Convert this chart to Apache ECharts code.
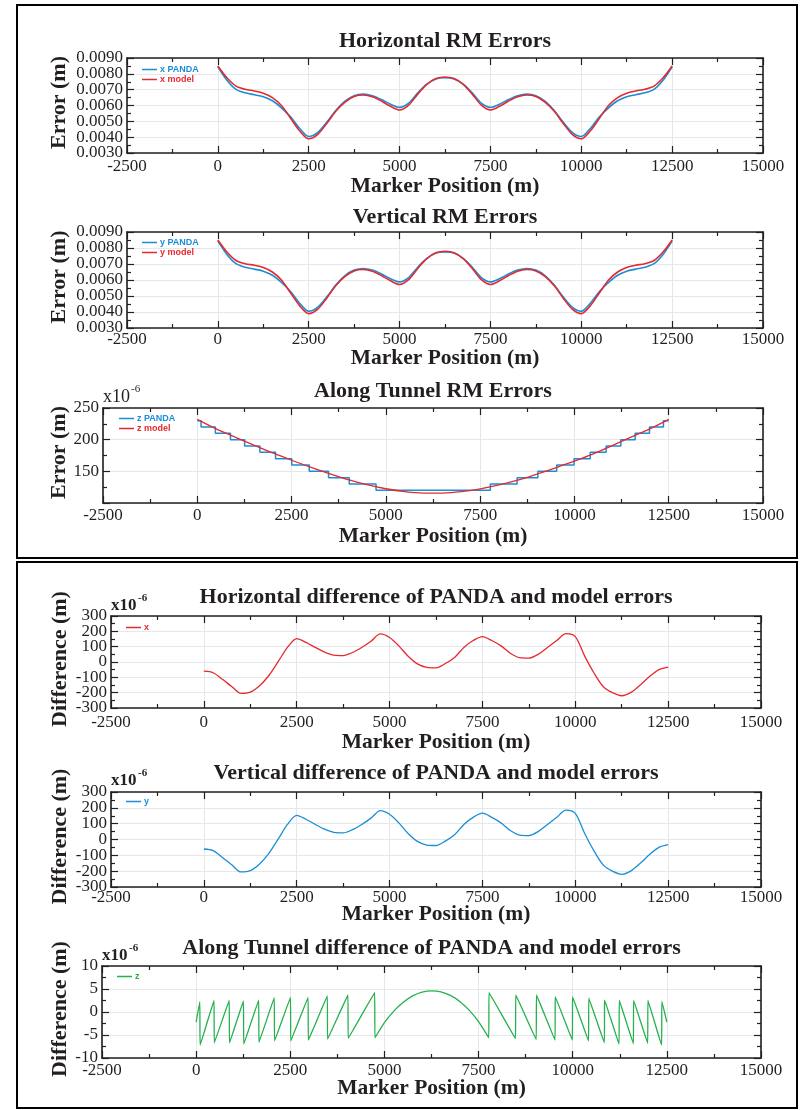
<!DOCTYPE html>
<html>
<head>
<meta charset="utf-8">
<script src="https://cdn.jsdelivr.net/npm/echarts@6/dist/echarts.min.js"></script>
<style>
  html, body { margin: 0; padding: 0; background: #fff; }
  #chart { width: 801px; height: 1110px; }
</style>
</head>
<body>
<div id="chart"></div>
<script>
// marker positions (m)
const positions = [0,250,500,750,1000,1250,1500,1750,2000,2250,2500,2750,3000,3250,3500,3750,4000,4250,4500,4750,5000,5250,5500,5750,6000,6250,
  6500,6750,7000,7250,7500,7750,8000,8250,8500,8750,9000,9250,9500,9750,10000,10250,10500,10750,11000,11250,11500,11750,12000,12250,12500];

// horizontal RM errors (m)
const xPanda = [0.00845,0.00760,0.00702,0.00680,0.00668,0.00655,0.00630,0.00585,0.00528,0.00455,0.00404,0.00430,0.00495,0.00570,0.00628,0.00662,0.00672,0.00662,0.00638,0.00608,0.00588,0.00615,0.00680,0.00735,0.00768,0.00775,
  0.00768,0.00735,0.00680,0.00615,0.00588,0.00608,0.00638,0.00662,0.00672,0.00662,0.00628,0.00570,0.00495,0.00430,0.00404,0.00455,0.00528,0.00585,0.00630,0.00655,0.00668,0.00680,0.00702,0.00760,0.00845];
const xModel = [0.00850,0.00775,0.00722,0.00702,0.00692,0.00678,0.00650,0.00600,0.00520,0.00440,0.00390,0.00418,0.00488,0.00565,0.00622,0.00657,0.00666,0.00655,0.00628,0.00595,0.00572,0.00602,0.00672,0.00733,0.00770,0.00780,
  0.00770,0.00733,0.00672,0.00602,0.00572,0.00595,0.00628,0.00655,0.00666,0.00657,0.00622,0.00565,0.00488,0.00418,0.00390,0.00440,0.00520,0.00600,0.00650,0.00678,0.00692,0.00702,0.00722,0.00775,0.00850];

// vertical RM errors (m)
const yPanda = [0.00845,0.00760,0.00702,0.00680,0.00668,0.00655,0.00630,0.00585,0.00528,0.00455,0.00404,0.00430,0.00495,0.00570,0.00628,0.00662,0.00672,0.00662,0.00638,0.00608,0.00588,0.00615,0.00680,0.00735,0.00768,0.00775,
  0.00768,0.00735,0.00680,0.00615,0.00588,0.00608,0.00638,0.00662,0.00672,0.00662,0.00628,0.00570,0.00495,0.00430,0.00404,0.00455,0.00528,0.00585,0.00630,0.00655,0.00668,0.00680,0.00702,0.00760,0.00845];
const yModel = [0.00850,0.00775,0.00722,0.00702,0.00692,0.00678,0.00650,0.00600,0.00520,0.00440,0.00390,0.00418,0.00488,0.00565,0.00622,0.00657,0.00666,0.00655,0.00628,0.00595,0.00572,0.00602,0.00672,0.00733,0.00770,0.00780,
  0.00770,0.00733,0.00672,0.00602,0.00572,0.00595,0.00628,0.00655,0.00666,0.00657,0.00622,0.00565,0.00488,0.00418,0.00390,0.00440,0.00520,0.00600,0.00650,0.00678,0.00692,0.00702,0.00722,0.00775,0.00850];

// along tunnel RM errors (x10^-6 m)
const zStepPos = [0,100,480,880,1255,1660,2075,2505,2970,3480,4030,4740,7770,8480,9030,9530,9990,10420,10840,11230,11610,11990,12360,12500];
const zStepVal = [230,220,210,200,190,180,170,160,150,140,130,120,130,140,150,160,170,180,190,200,210,220,230,230];
const zModelPos = [0,500,1000,1500,2000,2500,3000,3500,4000,4500,5000,5500,6000,6500,7000,7500,8000,8500,9000,9500,10000,10500,11000,11500,12000,12500];
const zModelVal = [232,217,204,191.5,179,167.5,156.5,146.5,137,129,122.5,118,115.7,115.7,117.8,122.3,128.5,136,145.5,155.5,166,177.5,190.5,204,217,232];

// differences (x10^-6 m)
const xDiff = [-60,-70,-113,-160,-205,-197,-155,-88,2,95,153,128,95,65,45,42,62,95,135,183,160,105,38,-12,-35,-38,
  -10,30,95,140,166,140,105,57,28,25,50,95,140,185,165,40,-70,-160,-200,-220,-198,-150,-95,-50,-33];
const yDiff = [-60,-70,-113,-160,-205,-197,-155,-88,2,95,153,128,95,65,45,42,62,95,135,183,160,105,38,-12,-35,-38,
  -10,30,95,140,166,140,105,57,28,25,50,95,140,185,165,40,-70,-160,-200,-220,-198,-150,-95,-50,-33];
const zDiffPos = [0,97,105,474,482,878,886,1256,1264,1660,1668,2074,2082,2505,2513,2972,2980,3483,3491,4030,4038,4740,4748,
  5000,5250,5500,5750,6000,6250,6500,6750,7000,7250,7500,7770,7778,8480,8488,9030,9038,9530,9538,9990,9998,10420,10428,
  10840,10848,11230,11238,11610,11618,11990,11998,12360,12368,12500];
const zDiffVal = [-2.2,2.2,-7.2,2.5,-6.7,2.5,-6.7,2.4,-7.0,2.6,-6.6,3.1,-6.3,3.2,-6.3,3.2,-6.1,3.5,-5.9,3.7,-5.7,4.2,-5.6,
  -2.3,0.2,2.1,3.5,4.3,4.6,4.4,3.6,2.3,0.4,-2.1,-5.6,4.2,-5.8,3.7,-6.0,3.7,-6.1,3.3,-6.1,3.3,-6.3,3.0,
  -6.7,2.6,-7.0,2.5,-6.9,2.5,-6.8,2.5,-7.2,2.3,-2.2];

// y tick labels, split in two alternating sets so they can sit close together
const rmLabelsA = [0.003, 0.005, 0.007, 0.009];
const rmLabelsB = [0.004, 0.006, 0.008];
const zLabels = [150, 200, 250];
const diffLabelsA = [-300, -100, 100, 300];
const diffLabelsB = [-200, 0, 200];
const zDiffLabels = [-10, -5, 0, 5, 10];

const BLUE = '#1b8ed6', RED = '#e52a2e', GREEN = '#23b24b';
const tc = '#231f20';
const serif = '"Liberation Serif", "DejaVu Serif", serif';
const sans = '"Liberation Sans", Arial, sans-serif';

const pairs = (xs, ys) => xs.map((x, k) => [x, ys[k]]);
const fmt4 = v => Number(v).toFixed(4);
const fmt0 = v => String(Math.round(v));

const panels = [
  { left: 127, top: 58, width: 636, height: 95, title: 'Horizontal RM Errors', titleY: 41, xNameY: 186, labelMargin: 5,
    yName: 'Error (m)', yNameX: 59, yMin: 0.003, yMax: 0.009, yStep: 0.001, fmt: fmt4, labA: rmLabelsA, labB: rmLabelsB,
    legend: { left: 142, top: 65 },
    lines: [{ name: 'x PANDA', data: pairs(positions, xPanda), color: BLUE, w: 1.6 },
            { name: 'x model', data: pairs(positions, xModel), color: RED, w: 1.6 }] },
  { left: 127, top: 232, width: 636, height: 96, title: 'Vertical RM Errors', titleY: 217, xNameY: 358, labelMargin: 3,
    yName: 'Error (m)', yNameX: 59, yMin: 0.003, yMax: 0.009, yStep: 0.001, fmt: fmt4, labA: rmLabelsA, labB: rmLabelsB,
    legend: { left: 142, top: 238 },
    lines: [{ name: 'y PANDA', data: pairs(positions, yPanda), color: BLUE, w: 1.6 },
            { name: 'y model', data: pairs(positions, yModel), color: RED, w: 1.6 }] },
  { left: 103, top: 408, width: 660, height: 95, title: 'Along Tunnel RM Errors', titleY: 391, xNameY: 536, labelMargin: 4,
    yName: 'Error (m)', yNameX: 59, yMin: 100, yMax: 250, yStep: 50, fmt: fmt0, labA: zLabels,
    legend: { left: 119, top: 414 }, exp: { x: 103, y: 397, bold: false },
    lines: [{ name: 'z PANDA', data: pairs(zStepPos, zStepVal), color: BLUE, w: 1.5, step: 'end' },
            { name: 'z model', data: pairs(zModelPos, zModelVal), color: RED, w: 1.3 }] },
  { left: 111, top: 616, width: 650, height: 92, title: 'Horizontal difference of PANDA and model errors', titleY: 597, xNameY: 742, labelMargin: 6,
    yName: 'Difference (m)', yNameX: 60, yMin: -300, yMax: 300, yStep: 100, fmt: fmt0, labA: diffLabelsA, labB: diffLabelsB,
    legend: { left: 126, top: 623 }, exp: { x: 111, y: 606, bold: true },
    lines: [{ name: 'x', data: pairs(positions, xDiff), color: RED, w: 1.3 }] },
  { left: 111, top: 792, width: 650, height: 95, title: 'Vertical difference of PANDA and model errors', titleY: 773, xNameY: 914, labelMargin: 2,
    yName: 'Difference (m)', yNameX: 60, yMin: -300, yMax: 300, yStep: 100, fmt: fmt0, labA: diffLabelsA, labB: diffLabelsB,
    legend: { left: 126, top: 797 }, exp: { x: 111, y: 781, bold: true },
    lines: [{ name: 'y', data: pairs(positions, yDiff), color: BLUE, w: 1.3 }] },
  { left: 102, top: 966, width: 659, height: 92, title: 'Along Tunnel difference of PANDA and model errors', titleY: 948, xNameY: 1088, labelMargin: 4,
    yName: 'Difference (m)', yNameX: 60, yMin: -10, yMax: 10, yStep: 5, fmt: fmt0, labA: zDiffLabels,
    legend: { left: 117, top: 972 }, exp: { x: 102, y: 956, bold: true },
    lines: [{ name: 'z', data: pairs(zDiffPos, zDiffVal), color: GREEN, w: 1.3 }] }
];

const grids = [], xAxes = [], yAxes = [], series = [], legends = [];
const graphics = [
  { type: 'rect', shape: { x: 17, y: 5, width: 780, height: 553 }, style: { fill: 'none', stroke: '#000', lineWidth: 2 } },
  { type: 'rect', shape: { x: 17, y: 562, width: 780, height: 546 }, style: { fill: 'none', stroke: '#000', lineWidth: 2 } }
];

panels.forEach((p, i) => {
  grids.push({ left: p.left, top: p.top, width: p.width, height: p.height });
  const axisLine = { show: true, onZero: false, lineStyle: { color: tc, width: 1.6 } };
  const axisTick = { show: true, inside: true, length: 7, lineStyle: { color: tc, width: 1.2 } };
  const minorTick = { show: true, splitNumber: 2, length: 4, lineStyle: { color: tc, width: 1.2 } };
  const grid = { show: true, lineStyle: { color: '#e4e8ea', width: 1 } };
  const labelBase = { fontSize: 17, fontFamily: serif, color: tc, showMinLabel: true, showMaxLabel: true, hideOverlap: false };

  const xMain = xAxes.length;
  xAxes.push({ type: 'value', gridIndex: i, position: 'bottom', min: -2500, max: 15000, interval: 2500,
    axisLine, axisTick, minorTick, splitLine: grid,
    axisLabel: Object.assign({}, labelBase, { margin: p.labelMargin, formatter: v => String(v) }) });
  xAxes.push({ type: 'value', gridIndex: i, position: 'top', min: -2500, max: 15000, interval: 2500,
    axisLine, axisTick, minorTick, splitLine: { show: false }, axisLabel: { show: false } });

  const yMain = yAxes.length;
  yAxes.push({ type: 'value', gridIndex: i, position: 'left', min: p.yMin, max: p.yMax, interval: p.yStep,
    axisLine, axisTick, minorTick, splitLine: grid,
    axisLabel: Object.assign({}, labelBase, { margin: 4, formatter: p.fmt, customValues: p.labA }) });
  if (p.labB) {
    yAxes.push({ type: 'value', gridIndex: i, position: 'left', min: p.yMin, max: p.yMax, interval: p.yStep,
      axisLine: { show: false }, axisTick: { show: false }, minorTick: { show: false }, splitLine: { show: false },
      axisLabel: Object.assign({}, labelBase, { margin: 4, formatter: p.fmt, customValues: p.labB }) });
  }
  yAxes.push({ type: 'value', gridIndex: i, position: 'right', min: p.yMin, max: p.yMax, interval: p.yStep,
    axisLine, axisTick, minorTick, splitLine: { show: false }, axisLabel: { show: false } });

  p.lines.forEach(l => {
    series.push({ type: 'line', name: l.name, xAxisIndex: xMain, yAxisIndex: yMain, data: l.data,
      symbol: 'none', step: l.step || false, smooth: l.step ? false : (l.data.length < 60 ? 0.3 : false),
      color: l.color, lineStyle: { color: l.color, width: l.w }, animation: false });
  });

  legends.push({ orient: 'vertical', left: p.legend.left, top: p.legend.top, padding: 0,
    icon: 'rect', itemWidth: 15, itemHeight: 1.5, itemGap: 1, selectedMode: false,
    textStyle: { fontSize: 9, fontWeight: 'bold', fontFamily: sans, padding: [0, 0, 0, -2] },
    data: p.lines.map(l => ({ name: l.name, textStyle: { color: l.color }, itemStyle: { color: l.color } })) });

  const cx = p.left + p.width / 2;
  graphics.push({ type: 'text', x: cx, y: p.titleY,
    style: { text: p.title, fill: tc, font: 'bold 22px ' + serif, align: 'center', verticalAlign: 'middle' } });
  graphics.push({ type: 'text', x: cx, y: p.xNameY,
    style: { text: 'Marker Position (m)', fill: tc, font: 'bold 21.5px ' + serif, align: 'center', verticalAlign: 'middle' } });
  graphics.push({ type: 'text', x: p.yNameX, y: p.top + p.height / 2 - 3, rotation: Math.PI / 2,
    style: { text: p.yName, fill: tc, font: 'bold 22px ' + serif, align: 'center', verticalAlign: 'middle' } });
  if (p.exp) {
    const w = p.exp.bold ? 'bold ' : '';
    graphics.push({ type: 'text', x: p.exp.x, y: p.exp.y,
      style: { text: 'x10', fill: tc, font: w + (p.exp.bold ? '17px ' : '18px ') + serif, align: 'left', verticalAlign: 'middle' } });
    graphics.push({ type: 'text', x: p.exp.x + (p.exp.bold ? 27 : 28), y: p.exp.y - 8,
      style: { text: '-6', fill: tc, font: w + '11px ' + serif, align: 'left', verticalAlign: 'middle' } });
  }
});

const chart = echarts.init(document.getElementById('chart'));
chart.setOption({
  animation: false,
  backgroundColor: '#fff',
  grid: grids,
  xAxis: xAxes,
  yAxis: yAxes,
  legend: legends,
  series: series,
  graphic: graphics
});
</script>
</body>
</html>
